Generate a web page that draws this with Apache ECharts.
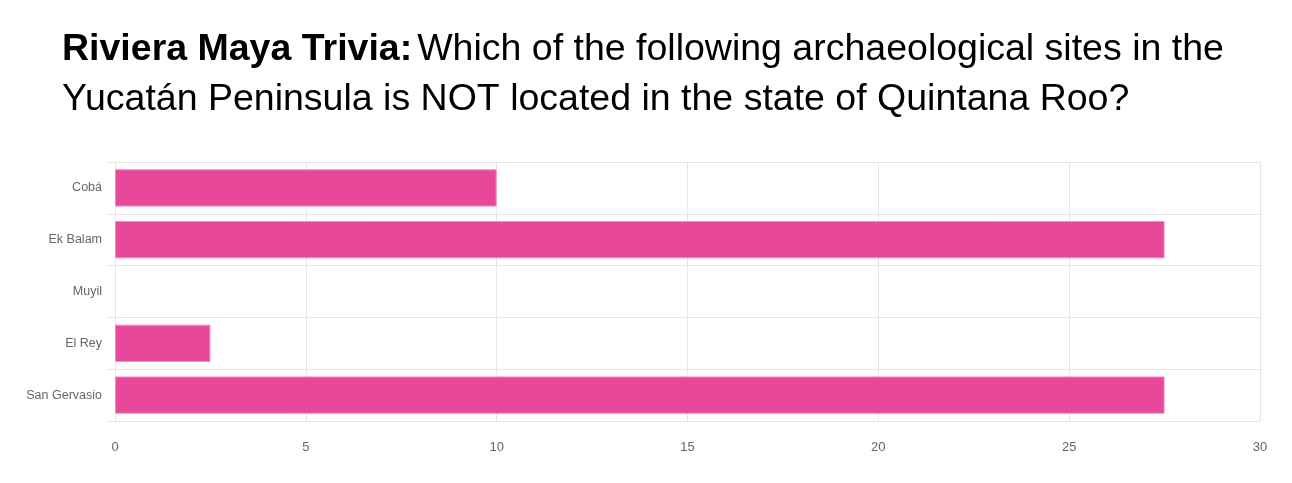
<!DOCTYPE html>
<html>
<head>
<meta charset="utf-8">
<script src="https://cdn.jsdelivr.net/npm/echarts@6/dist/echarts.min.js"></script>
<style>
  html, body { margin: 0; padding: 0; background: #fff; }
  #chart { width: 1292px; height: 483px; }
</style>
</head>
<body>
<div id="chart"></div>
<script>
// data
const sites = ['Cobá', 'Ek Balam', 'Muyil', 'El Rey', 'San Gervasio']
const votes = [10, 27.5, 0, 2.5, 27.5]
const xTicks = { min: 0, max: 30, step: 5 }

const gridColor = '#e6e6e6'
const chart = echarts.init(document.getElementById('chart'))

chart.setOption({
  animation: false,
  textStyle: { fontFamily: 'Liberation Sans, Arial, sans-serif' },
  title: {
    left: 57,
    top: 20,
    text: '{b|Riviera Maya Trivia:} {n|Which of the following archaeological sites in the}\n{n|Yucatán Peninsula is NOT located in the state of Quintana Roo?}',
    textStyle: {
      fontWeight: 'normal',
      rich: {
        b: { fontSize: 37.5, fontWeight: 'bold', color: '#000', lineHeight: 50, fontFamily: 'Liberation Sans' },
        n: { fontSize: 37.5, fontWeight: 'normal', color: '#000', lineHeight: 50, fontFamily: 'Liberation Sans' }
      }
    }
  },
  grid: { left: 115, right: 32, top: 162, bottom: 62, containLabel: false },
  xAxis: {
    type: 'value',
    min: xTicks.min,
    max: xTicks.max,
    interval: xTicks.step,
    axisLine: { show: true, lineStyle: { color: gridColor } },
    axisTick: { show: false },
    axisLabel: { color: '#666', fontSize: 13, margin: 20 },
    splitLine: { show: true, lineStyle: { color: gridColor } }
  },
  yAxis: {
    type: 'category',
    inverse: true,
    data: sites,
    axisLine: { show: true, lineStyle: { color: gridColor } },
    axisTick: { show: true, length: 9, lineStyle: { color: gridColor } },
    axisLabel: { color: '#666', fontSize: 12.5, margin: 13 },
    splitLine: { show: true, lineStyle: { color: gridColor } }
  },
  series: [
    {
      type: 'bar',
      // an empty bar should not leave a border sliver
      data: votes.map(v => (v === 0 ? { value: v, itemStyle: { borderWidth: 0 } } : v)),
      barCategoryGap: '28%',
      itemStyle: { color: '#E8489A', borderColor: '#F28DC1', borderWidth: 1 }
    }
  ]
})
</script>
</body>
</html>
